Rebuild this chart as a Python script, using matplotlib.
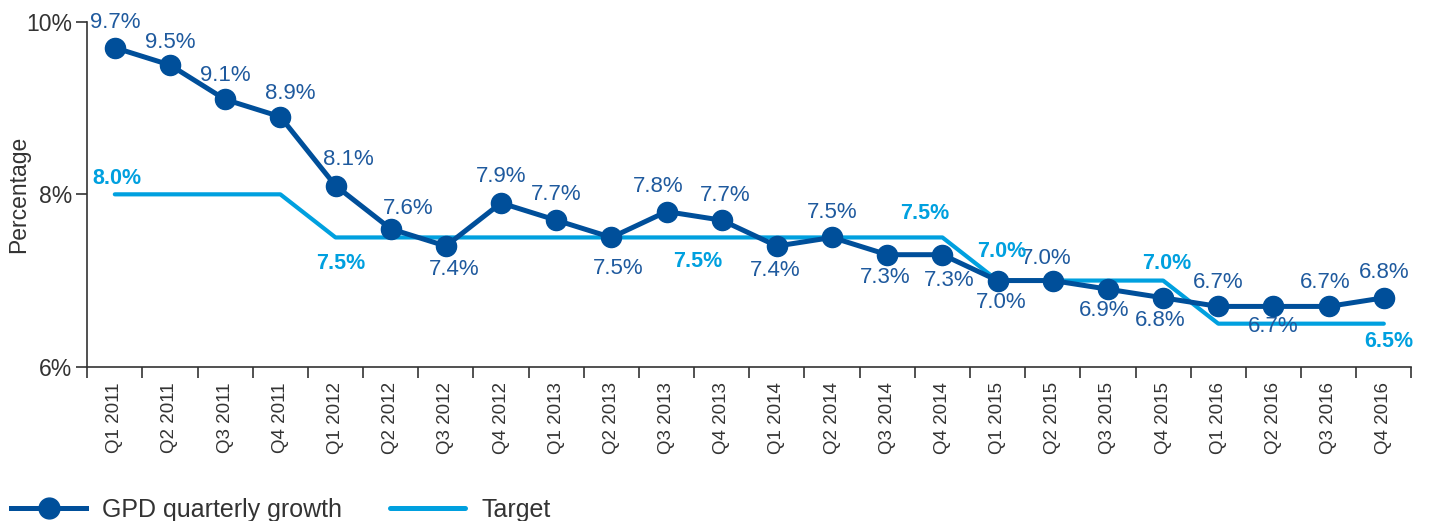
import matplotlib
matplotlib.use("Agg")
import matplotlib.pyplot as plt
from matplotlib.lines import Line2D

plt.rcParams['font.family'] = ['Liberation Sans', 'DejaVu Sans']

quarters = ["Q1 2011", "Q2 2011", "Q3 2011", "Q4 2011",
            "Q1 2012", "Q2 2012", "Q3 2012", "Q4 2012",
            "Q1 2013", "Q2 2013", "Q3 2013", "Q4 2013",
            "Q1 2014", "Q2 2014", "Q3 2014", "Q4 2014",
            "Q1 2015", "Q2 2015", "Q3 2015", "Q4 2015",
            "Q1 2016", "Q2 2016", "Q3 2016", "Q4 2016"]
gdp = [9.7, 9.5, 9.1, 8.9, 8.1, 7.6, 7.4, 7.9, 7.7, 7.5, 7.8, 7.7,
       7.4, 7.5, 7.3, 7.3, 7.0, 7.0, 6.9, 6.8, 6.7, 6.7, 6.7, 6.8]
target = [8.0, 8.0, 8.0, 8.0, 7.5, 7.5, 7.5, 7.5, 7.5, 7.5, 7.5, 7.5,
          7.5, 7.5, 7.5, 7.5, 7.0, 7.0, 7.0, 7.0, 6.5, 6.5, 6.5, 6.5]

# label layout for GDP values (pixel offsets from each point)
gdp_label_dx = [0, 0, 0, 10, 13, 17, 8, 0, 0, 7, -8, 3,
                -2, 0, -2, 7, 4, -7, -4, -3, 0, 0, -3, 0]
gdp_label_dy = [25, 22, 24, 23, 26, 20, -23, 26, 26, -31, 25, 25,
                -24, 25, -23, -26, -22, 22, -21, -23, 24, -20, 24, 25]
# target labels: (index, x-shift px, y-shift px)
target_labels = [(0, 2, 16), (4, 5, -26), (10, 31, -24), (15, -18, 24),
                 (16, 4, 29), (19, 4, 17), (23, 5, -18)]
yticks = [6, 8, 10]
ytick_labels = ["6%", "8%", "10%"]

dark = "#004f9a"
dark_text = "#1f5a9e"
light = "#00a0df"
grey = "#333333"

fig = plt.figure(figsize=(14.30, 5.21), dpi=100)
ax = fig.add_axes([0.061, 0.296, 0.926, 0.662])

x = list(range(len(quarters)))
ax.plot(x, target, color=light, lw=3.0, solid_capstyle='round', zorder=2)
ax.plot(x, gdp, color=dark, lw=3.6, marker='o', markersize=14.5, zorder=3)

for i, v in enumerate(gdp):
    ax.annotate(f"{v:.1f}%", (i, v), xytext=(gdp_label_dx[i], gdp_label_dy[i]),
                textcoords='offset pixels', ha='center', va='center',
                fontsize=16, color=dark_text, zorder=4)

for i, dx, dy in target_labels:
    ax.annotate(f"{target[i]:.1f}%", (i, target[i]), xytext=(dx, dy),
                textcoords='offset pixels', ha='center', va='center',
                fontsize=15.5, fontweight='bold', color=light, zorder=4)

ax.set_xlim(-0.5, len(quarters) - 0.5)
ax.set_ylim(6, 10)
ax.set_yticks(yticks)
ax.set_yticklabels(ytick_labels, fontsize=16.5, color=grey)
ax.set_xticks(x)
ax.set_xticklabels(quarters, rotation=90, fontsize=13.5, color=grey)
ax.set_xticks([i - 0.5 for i in range(len(quarters) + 1)], minor=True)
ax.tick_params(axis='x', which='major', length=0, pad=11)
ax.tick_params(axis='x', which='minor', length=8, width=1.2, color=grey, direction='out')
ax.tick_params(axis='y', length=8, width=1.2, color=grey, pad=3)
ax.set_ylabel("Percentage", fontsize=16.5, color=grey)
ax.yaxis.set_label_coords(-0.043, 0.5)

for sp in ['top', 'right']:
    ax.spines[sp].set_visible(False)
for sp in ['left', 'bottom']:
    ax.spines[sp].set_color(grey)
    ax.spines[sp].set_linewidth(1.2)

handles = [Line2D([], [], color=dark, lw=3.6, marker='o', markersize=15),
           Line2D([], [], color=light, lw=3.6, solid_capstyle='round')]
leg = fig.legend(handles, ["GPD quarterly growth", "Target"], loc='center left',
                 bbox_to_anchor=(-0.008, 0.022), ncol=2, frameon=False,
                 fontsize=18, handlelength=3.0, handletextpad=0.65,
                 columnspacing=1.9, labelcolor=grey)

fig.savefig("out.png", dpi=100)
